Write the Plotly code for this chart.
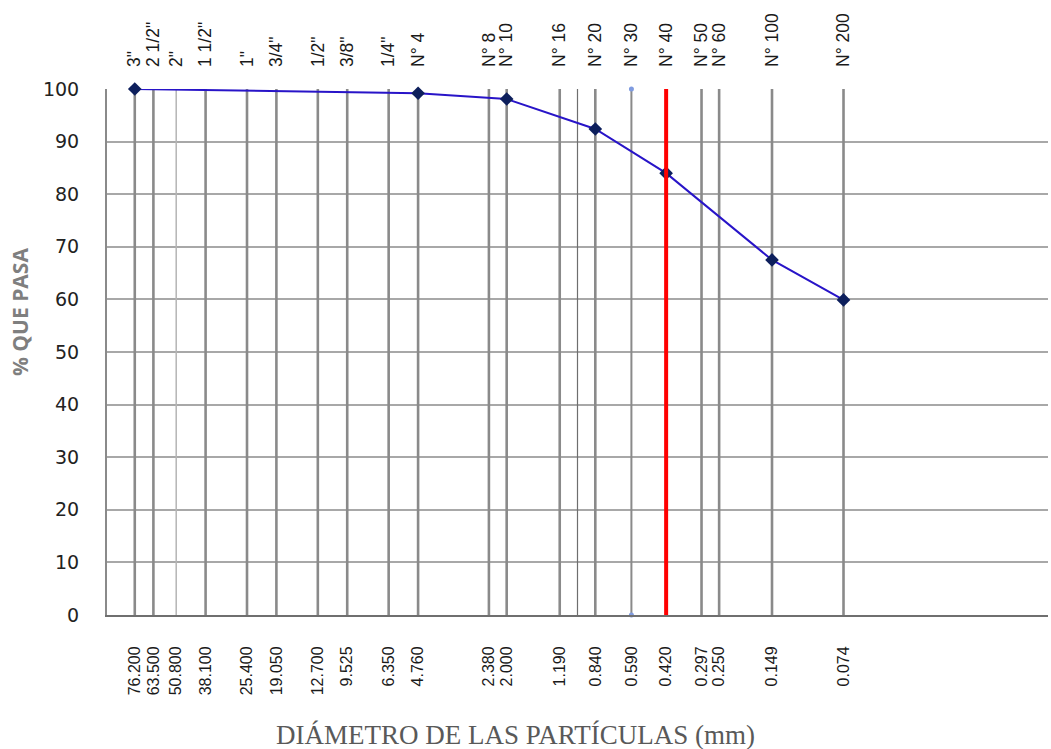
import plotly.graph_objects as go

# Sieve openings (mm) and labels
sieve_mm = [76.2, 63.5, 50.8, 38.1, 25.4, 19.05, 12.7, 9.525, 6.35, 4.76,
            2.38, 2.0, 1.19, 0.84, 0.59, 0.42, 0.297, 0.25, 0.149, 0.074]
sieve_names = ['3"', '2 1/2"', '2"', '1 1/2"', '1"', '3/4"', '1/2"', '3/8"', '1/4"', 'N° 4',
               'N° 8', 'N° 10', 'N° 16', 'N° 20', 'N° 30', 'N° 40', 'N° 50', 'N° 60', 'N° 100', 'N° 200']
size_labels = ['76.200', '63.500', '50.800', '38.100', '25.400', '19.050', '12.700', '9.525', '6.350', '4.760',
               '2.380', '2.000', '1.190', '0.840', '0.590', '0.420', '0.297', '0.250', '0.149', '0.074']

# Grading curve
curve_mm = [76.2, 4.76, 2.0, 0.84, 0.42, 0.149, 0.074]
curve_pass = [100.0, 99.2, 98.1, 92.4, 84.0, 67.5, 59.9]

# Special vertical lines
thin_light_mm = [50.8]
thin_dark_mm = [1.0]
n30_mm = [0.59]
limit_mm = [0.42]

fig = go.Figure()

# Thick gray sieve lines
xs, ys = [], []
for v in sieve_mm:
    if v in thin_light_mm or v in n30_mm or v in limit_mm:
        continue
    xs += [v, v, None]
    ys += [0, 100, None]
fig.add_trace(go.Scatter(x=xs, y=ys, mode='lines',
                         line=dict(color='#8a8a8a', width=2.6), hoverinfo='skip'))

# Thin light lines
xs, ys = [], []
for v in thin_light_mm:
    xs += [v, v, None]
    ys += [0, 100, None]
fig.add_trace(go.Scatter(x=xs, y=ys, mode='lines',
                         line=dict(color='#b5b5b5', width=1.5), hoverinfo='skip'))

# Thin dark line
xs, ys = [], []
for v in thin_dark_mm:
    xs += [v, v, None]
    ys += [0, 100, None]
fig.add_trace(go.Scatter(x=xs, y=ys, mode='lines',
                         line=dict(color='#6e6e6e', width=1.2), hoverinfo='skip'))

# N°30 line with blue end dots
fig.add_trace(go.Scatter(x=[n30_mm[0], n30_mm[0]], y=[0, 100], mode='lines+markers',
                         line=dict(color='#8a8a8a', width=2),
                         marker=dict(color='#7f9be0', size=5, symbol='circle'),
                         cliponaxis=False, hoverinfo='skip'))

# Grading curve
fig.add_trace(go.Scatter(x=curve_mm, y=curve_pass, mode='lines+markers',
                         line=dict(color='#2814c8', width=2),
                         marker=dict(symbol='diamond', size=10.5, color='#0d1f5c'),
                         cliponaxis=False))

# Red limit line (N°40)
fig.add_trace(go.Scatter(x=[limit_mm[0], limit_mm[0]], y=[0, 100], mode='lines',
                         line=dict(color='#ff0000', width=4), hoverinfo='skip'))

# Dummy trace to activate top axis
fig.add_trace(go.Scatter(x=sieve_mm, y=[None] * len(sieve_mm), xaxis='x2',
                         mode='markers', hoverinfo='skip'))

fig.update_layout(
    width=1051, height=749,
    margin=dict(l=107, r=3, t=89, b=134),
    paper_bgcolor='white', plot_bgcolor='white',
    showlegend=False,
    xaxis=dict(type='log', range=[2, -2], showgrid=False, zeroline=False, automargin=False,
               tickmode='array', tickvals=sieve_mm, ticktext=size_labels,
               tickangle=-90, ticks='', ticklabelstandoff=23,
               tickfont=dict(family='Liberation Sans, Arial', size=16, color='#1a1a1a'),
               showline=True, linecolor='#6f6f6f', linewidth=2),
    xaxis2=dict(type='log', range=[2, -2], overlaying='x', side='top', automargin=False,
                showgrid=False, zeroline=False, showline=False,
                tickmode='array', tickvals=sieve_mm, ticktext=sieve_names,
                tickangle=-90, ticks='', ticklabelstandoff=21,
                tickfont=dict(family='Liberation Sans, Arial', size=17.5, color='#1a1a1a')),
    yaxis=dict(range=[0, 100], dtick=10, showgrid=True, gridcolor='#a8a8a8', gridwidth=1.5,
               zeroline=False, showline=True, linecolor='#8a8a8a', linewidth=2, automargin=False,
               ticks='', ticklabelstandoff=22,
               tickfont=dict(family='DejaVu Sans', size=19, color='#222222')),
    annotations=[
        dict(text='% QUE PASA', xref='paper', yref='paper', x=-87 / 941, y=0.576,
             xanchor='center', yanchor='middle', textangle=-90, showarrow=False,
             font=dict(family='Open Sans', size=21, color='#7f7f7f', weight='bold')),
        dict(text='DIÁMETRO DE LAS PARTÍCULAS (mm)', xref='paper', yref='paper',
             x=0.4336, y=-0.228, xanchor='center', yanchor='middle', showarrow=False,
             font=dict(family='Liberation Serif, Times New Roman', size=27, color='#595959')),
    ],
)

fig.write_html('out.html', config={'displayModeBar': False},
               post_script="document.body.style.margin='0';document.body.style.overflow='hidden';")
